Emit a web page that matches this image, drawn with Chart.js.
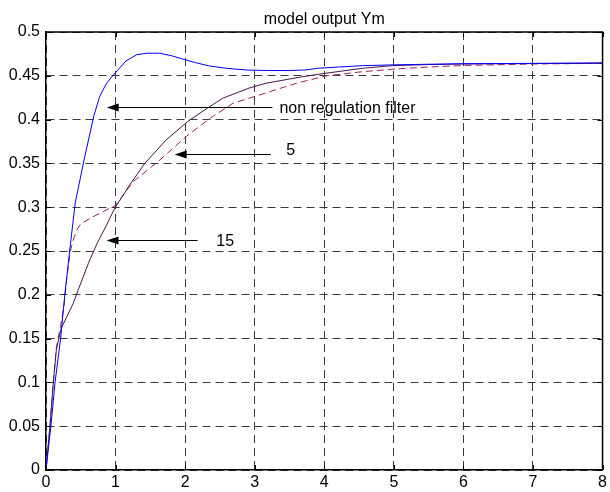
<!DOCTYPE html>
<html><head><meta charset="utf-8">
<script src="https://cdn.jsdelivr.net/npm/chart.js@4"></script>
<style>html,body{margin:0;padding:0;background:#fff}canvas{display:block}</style>
</head><body>
<canvas id="c" width="610" height="492"></canvas>
<script>
const titleText = 'model output Ym';

// Series: non regulation filter (blue)
const xBlue = [0, 0.07, 0.13, 0.21, 0.27, 0.34, 0.42, 0.55, 0.69, 0.77, 0.87, 0.98, 1.15, 1.3, 1.45, 1.63, 1.8, 1.97, 2.15, 2.35, 2.6, 2.9, 3.2, 3.5, 3.74, 3.9, 4.2, 4.55, 5.0, 5.5, 6.0, 7.0, 8.0];
const yBlue = [0, 0.05, 0.1, 0.15, 0.2, 0.25, 0.305, 0.355, 0.405, 0.426, 0.4415, 0.452, 0.467, 0.474, 0.4758, 0.4758, 0.473, 0.469, 0.465, 0.4612, 0.4585, 0.4565, 0.456, 0.456, 0.4567, 0.4586, 0.46, 0.4616, 0.4625, 0.4632, 0.4638, 0.4642, 0.4648];

// Series: 15 (solid purple)
const xSolid = [0, 0.057, 0.105, 0.15, 0.22, 0.30, 0.39, 0.47, 0.61, 0.73, 0.86, 0.99, 1.2, 1.42, 1.73, 2.04, 2.3, 2.54, 2.92, 3.16, 3.69, 4.02, 4.55, 4.98, 5.5, 6.0, 7.0, 8.0];
const ySolid = [0, 0.05, 0.1, 0.138, 0.162, 0.175, 0.19, 0.207, 0.236, 0.258, 0.278, 0.299, 0.325, 0.35, 0.377, 0.398, 0.412, 0.4244, 0.436, 0.4415, 0.449, 0.4529, 0.4586, 0.4616, 0.4628, 0.4635, 0.464, 0.4642];

// Series: 5 (dashed maroon)
const xDashed = [0, 0.057, 0.105, 0.15, 0.21, 0.26, 0.30, 0.35, 0.40, 0.45, 0.50, 0.65, 0.82, 1.0, 1.25, 1.61, 2.02, 2.36, 2.69, 2.92, 3.3, 3.6, 4.02, 4.55, 5.03, 5.5, 6.0, 7.0, 8.0];
const yDashed = [0, 0.05, 0.1, 0.14, 0.165, 0.188, 0.22, 0.25, 0.265, 0.275, 0.281, 0.288, 0.295, 0.302, 0.329, 0.352, 0.381, 0.4016, 0.4187, 0.4244, 0.434, 0.4415, 0.4498, 0.4547, 0.4578, 0.46, 0.4618, 0.4635, 0.4642];

const xTickLabels = ['0','1','2','3','4','5','6','7','8'];
const yTickLabels = ['0','0.05','0.1','0.15','0.2','0.25','0.3','0.35','0.4','0.45','0.5'];

// Annotation arrows (data coordinates)
const annLabels = ['non regulation filter', '5', '15'];
const annTipX   = [0.872, 1.849, 0.87];
const annTailX  = [3.254, 3.233, 2.179];
const annArrowY = [0.4141, 0.3612, 0.2628];
const annTextX  = [3.355, 3.455, 2.447];
const annTextY  = [0.4071, 0.3594, 0.2552];

const FONT = '"Liberation Sans", Arial, Helvetica, sans-serif';
Chart.defaults.font.family = FONT;
Chart.defaults.font.size = 16;
Chart.defaults.color = '#000';

const pts = (xs, ys) => xs.map((x, i) => ({x, y: ys[i]}));

const overlay = {
  id: 'overlay',
  afterDraw(chart) {
    const {ctx, chartArea: a, scales: {x, y}} = chart;
    ctx.save();
    // box top/right
    ctx.strokeStyle = '#000';
    ctx.lineWidth = 1.5;
    ctx.beginPath();
    ctx.moveTo(a.left, a.top); ctx.lineTo(a.right, a.top); ctx.lineTo(a.right, a.bottom);
    ctx.stroke();
    // inward ticks
    ctx.lineWidth = 1;
    ctx.beginPath();
    x.ticks.forEach(t => {
      const px = Math.round(x.getPixelForValue(t.value)) + 0.5;
      ctx.moveTo(px, a.bottom); ctx.lineTo(px, a.bottom - 5);
      ctx.moveTo(px, a.top); ctx.lineTo(px, a.top + 5);
    });
    y.ticks.forEach(t => {
      const py = Math.round(y.getPixelForValue(t.value)) + 0.5;
      ctx.moveTo(a.left, py); ctx.lineTo(a.left + 5, py);
      ctx.moveTo(a.right, py); ctx.lineTo(a.right - 5, py);
    });
    ctx.stroke();
    // title
    ctx.fillStyle = '#000';
    ctx.font = '16px ' + FONT;
    ctx.textAlign = 'center';
    ctx.textBaseline = 'alphabetic';
    ctx.fillText(titleText, (a.left + a.right) / 2, 24);
    // annotations
    annLabels.forEach((lab, i) => {
      const tip = x.getPixelForValue(annTipX[i]);
      const tail = x.getPixelForValue(annTailX[i]);
      const py = Math.round(y.getPixelForValue(annArrowY[i])) + 0.5;
      ctx.strokeStyle = '#000';
      ctx.lineWidth = 1;
      ctx.beginPath();
      ctx.moveTo(tail, py); ctx.lineTo(tip + 10, py);
      ctx.stroke();
      ctx.beginPath();
      ctx.moveTo(tip, py); ctx.lineTo(tip + 12, py - 4); ctx.lineTo(tip + 12, py + 4); ctx.closePath();
      ctx.fill();
      ctx.textAlign = 'left';
      ctx.fillText(lab, x.getPixelForValue(annTextX[i]), y.getPixelForValue(annTextY[i]));
    });
    ctx.restore();
  }
};

new Chart(document.getElementById('c'), {
  type: 'line',
  data: {
    datasets: [
      {label: annLabels[0], data: pts(xBlue, yBlue), borderColor: '#0000ff', borderWidth: 1, pointRadius: 0, fill: false, tension: 0},
      {label: annLabels[2], data: pts(xSolid, ySolid), borderColor: '#4d1450', borderWidth: 1, pointRadius: 0, fill: false, tension: 0},
      {label: annLabels[1], data: pts(xDashed, yDashed), borderColor: '#9b2360', borderWidth: 1, borderDash: [7, 4], pointRadius: 0, fill: false, tension: 0}
    ]
  },
  options: {
    responsive: false,
    animation: false,
    events: [],
    layout: {padding: {top: 32, right: 6, left: 0, bottom: 0}},
    plugins: {legend: {display: false}, tooltip: {enabled: false}, title: {display: false}},
    scales: {
      x: {
        type: 'linear', min: 0, max: 8,
        afterFit(s) { s.height = 22; },
        ticks: {stepSize: 1, padding: 3, maxRotation: 0, autoSkip: false,
          callback: (v) => xTickLabels[Math.round(v)] },
        grid: {color: '#3a3a3a', lineWidth: 1, drawTicks: false},
        border: {display: true, color: '#000', width: 1.5, dash: [8, 5]}
      },
      y: {
        type: 'linear', min: 0, max: 0.5,
        afterFit(s) { s.width = 46; },
        ticks: {stepSize: 0.05, padding: 6, autoSkip: false,
          callback: (v) => yTickLabels[Math.round(v / 0.05)] },
        grid: {color: '#3a3a3a', lineWidth: 1, drawTicks: false},
        border: {display: true, color: '#000', width: 1.5, dash: [8, 5]}
      }
    }
  },
  plugins: [overlay]
});
</script>
</body></html>
